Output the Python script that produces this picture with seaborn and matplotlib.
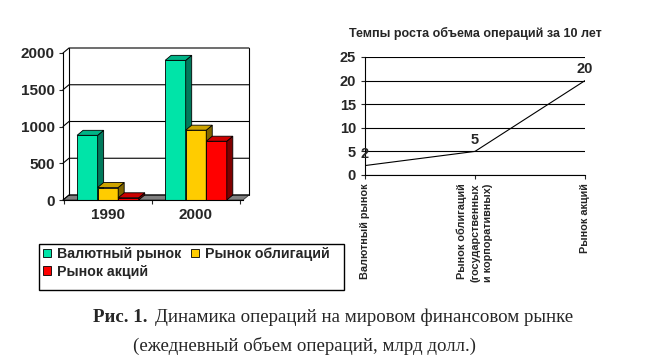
import numpy as np
import pandas as pd
import matplotlib
matplotlib.use('Agg')
import matplotlib.pyplot as plt
from matplotlib.patches import Polygon, Rectangle
from matplotlib.lines import Line2D
from matplotlib.transforms import IdentityTransform
import seaborn as sns

# data
years = ['1990', '2000']
markets = ['Валютный рынок', 'Рынок облигаций', 'Рынок акций']
fx_volume = [880, 1900]
bond_volume = [170, 950]
stock_volume = [30, 800]

growth_cats = ['Валютный рынок',
               'Рынок облигаций\n(государственных\nи корпоративных)',
               'Рынок акций']
growth_rate = [2, 5, 20]

front_colors = ['#00E4A8', '#FFCC00', '#FF0000']
top_colors = ['#00B386', '#CCA300', '#CC0000']
side_colors = ['#007A5C', '#806600', '#800000']

sns.set_style('white')
plt.rcParams['font.family'] = ['Liberation Sans', 'DejaVu Sans']
plt.rcParams['font.weight'] = 'bold'

W, H = 662, 361
fig = plt.figure(figsize=(W / 100, H / 100), dpi=100)


def box(l, t, r, b):
    return [l / W, 1 - b / H, (r - l) / W, (b - t) / H]


df = pd.DataFrame({
    'year': years * 3,
    'market': np.repeat(markets, 2),
    'volume': fx_volume + bond_volume + stock_volume,
})

# ---- left chart: pseudo-3D bars
ax = fig.add_axes(box(63, 53, 243, 200))
sns.barplot(data=df, x='year', y='volume', hue='market', palette=front_colors,
            width=0.7, saturation=1, edgecolor='black', linewidth=0.6,
            legend=False, ax=ax)
ax.set_xlim(-0.51, 1.534)
ax.set_ylim(0, 2000)
ax.set_xlabel('')
ax.set_ylabel('')
for s in ['top', 'right']:
    ax.spines[s].set_visible(False)
for s in ['left', 'bottom']:
    ax.spines[s].set_color('black')
    ax.spines[s].set_linewidth(0.8)
    ax.spines[s].set_zorder(5)

ax.set_yticks(range(0, 2001, 500))
ax.tick_params(axis='y', left=True, direction='out', length=3, width=0.8,
               labelsize=11, pad=3)
ax.set_xticks([0, 1], years)
ax.tick_params(axis='x', which='major', length=0, labelsize=11, pad=6)
ax.set_xticks([-0.5, 0.5, 1.5], minor=True)
ax.tick_params(axis='x', which='minor', bottom=True, direction='out',
               length=3, width=0.8)

# depth of the 3D look, in pixels
DX, DY = 6, 5
ident = IdentityTransform()


def to_px(x, y):
    return ax.transData.transform((x, y))


x0, x1 = ax.get_xlim()
fl, fr = to_px(x0, 0), to_px(x1, 0)
off = np.array([DX, DY])
ax.add_artist(Polygon([fl, fr, fr + off, fl + off], closed=True,
                      facecolor='#808080', edgecolor='#333333', lw=0.6,
                      transform=ident, clip_on=False, zorder=1))
for v in range(0, 2001, 500):
    a, b = to_px(x0, v), to_px(x1, v)
    ax.add_artist(Line2D([a[0], a[0] + DX, b[0] + DX], [a[1], a[1] + DY, b[1] + DY],
                         color='black', lw=0.8, transform=ident, clip_on=False, zorder=1.2))
for xe in (x0, x1):
    a, b = to_px(xe, 0), to_px(xe, 2000)
    ax.add_artist(Line2D([a[0] + DX, b[0] + DX], [a[1] + DY, b[1] + DY],
                         color='black', lw=0.8, transform=ident, clip_on=False, zorder=1.2))

for i, cont in enumerate(ax.containers):
    z = 3 + i * 0.1
    for bar in cont:
        bar.set_zorder(z)
        bx, bw, bh = bar.get_x(), bar.get_width(), bar.get_height()
        p1, p2 = to_px(bx, bh), to_px(bx + bw, bh)
        p0 = to_px(bx + bw, 0)
        ax.add_artist(Polygon([p0, p2, p2 + off, p0 + off], closed=True,
                              facecolor=side_colors[i], edgecolor='black', lw=0.6,
                              transform=ident, clip_on=False, zorder=z + 0.01))
        ax.add_artist(Polygon([p1, p2, p2 + off, p1 + off], closed=True,
                              facecolor=top_colors[i], edgecolor='black', lw=0.6,
                              transform=ident, clip_on=False, zorder=z + 0.01))

# legend for the bars (row-major order like the original)
handles = [Rectangle((0, 0), 1, 1, facecolor=c, edgecolor='black', lw=0.6)
           for c in front_colors]
order = [0, 2, 1]
fig.legend([handles[k] for k in order], [markets[k] for k in order], ncol=2,
           loc='upper left', bbox_to_anchor=(43 / W, 1 - 247 / H),
           frameon=False, fontsize=10.2, handlelength=0.55, handleheight=0.55,
           handletextpad=0.45, columnspacing=0.7, labelspacing=0.25,
           borderpad=0, borderaxespad=0)
fig.add_artist(Rectangle((39 / W, 1 - 290 / H), 305 / W, 46 / H,
                         transform=fig.transFigure, fill=False,
                         edgecolor='black', lw=1))

# ---- right chart: growth line
ax2 = fig.add_axes(box(365, 57, 585, 175))
sns.lineplot(x=np.arange(len(growth_rate)), y=growth_rate, color='black',
             lw=0.8, ax=ax2)
ax2.set_xlim(0, 2)
ax2.set_ylim(0, 25)
ax2.set_axisbelow(True)
ax2.set_yticks(range(0, 26, 5))
ax2.grid(axis='y', color='black', lw=0.8)
for s in ['top', 'right']:
    ax2.spines[s].set_visible(False)
for s in ['left', 'bottom']:
    ax2.spines[s].set_color('black')
    ax2.spines[s].set_linewidth(0.8)
ax2.tick_params(axis='y', left=True, direction='out', length=3, width=0.8,
                labelsize=10.5)
ax2.set_xticks(range(len(growth_cats)))
ax2.set_xticklabels(growth_cats, rotation=90, fontsize=7.8, va='top',
                    ha='center', multialignment='right', linespacing=1.35)
ax2.tick_params(axis='x', bottom=True, direction='out', length=3, width=0.8,
                pad=3)
for i, v in enumerate(growth_rate):
    ax2.annotate(str(v), (i, v), xytext=(0, 3), textcoords='offset points',
                 ha='center', va='bottom', fontsize=10.5, annotation_clip=False)
fig.text(475 / W, 1 - 33 / H, 'Темпы роста объема операций за 10 лет',
         ha='center', va='center', fontsize=9)

# ---- caption
cap = dict(family=['Liberation Serif', 'DejaVu Serif'], fontsize=13.6, va='center')
fig.text(93 / W, 1 - 317 / H, 'Рис. 1.', weight='bold', **cap)
fig.text(155 / W, 1 - 317 / H, 'Динамика операций на мировом финансовом рынке',
         weight='normal', **cap)
fig.text(133 / W, 1 - 346 / H, '(ежедневный объем операций, млрд долл.)',
         weight='normal', **cap)

fig.savefig('out.png', dpi=100)
